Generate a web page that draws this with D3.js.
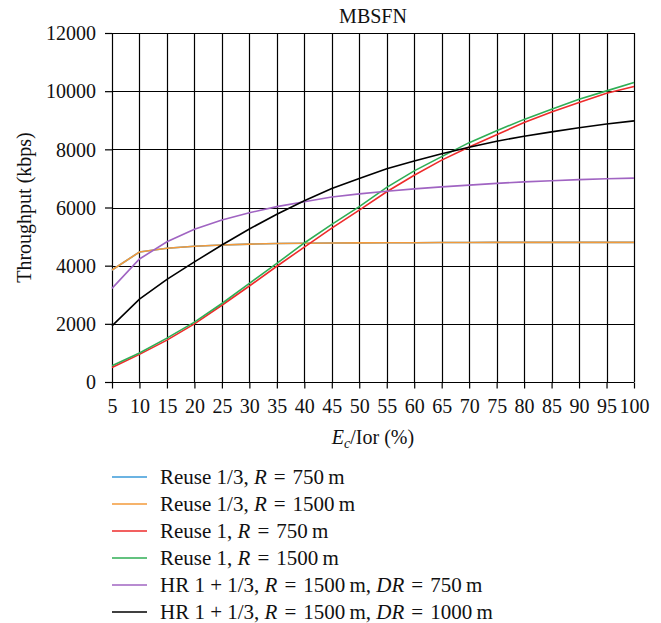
<!DOCTYPE html>
<html lang="en">
<head>
<meta charset="utf-8">
<title>MBSFN</title>
<script src="https://cdn.jsdelivr.net/npm/d3@7/dist/d3.min.js"></script>
<style>
  body { margin: 0; background: #fff; }
  text { font-family: "Liberation Serif", "DejaVu Serif", serif; fill: #111; }
</style>
</head>
<body>
<div id="chart"></div>
<script>
// E_c/Ior (%)
var ecIor = [5, 10, 15, 20, 25, 30, 35, 40, 45, 50, 55, 60, 65, 70, 75, 80, 85, 90, 95, 100];

// throughput (kbps)
var reuse3R750  = [3850, 4470, 4600, 4670, 4710, 4740, 4760, 4770, 4780, 4785, 4790, 4790, 4795, 4795, 4800, 4800, 4800, 4800, 4800, 4800];
var reuse3R1500 = [3850, 4470, 4600, 4670, 4710, 4740, 4760, 4770, 4780, 4785, 4790, 4790, 4795, 4795, 4800, 4800, 4800, 4800, 4800, 4800];
var reuse1R750  = [500, 950, 1440, 2000, 2640, 3300, 3980, 4640, 5290, 5910, 6540, 7110, 7630, 8080, 8500, 8920, 9280, 9610, 9930, 10160];
var reuse1R1500 = [560, 1000, 1510, 2060, 2700, 3390, 4080, 4780, 5420, 6030, 6690, 7260, 7750, 8230, 8640, 9030, 9380, 9720, 10010, 10300];
var hrDR750     = [3220, 4230, 4820, 5250, 5570, 5820, 6030, 6200, 6360, 6470, 6560, 6640, 6710, 6770, 6830, 6880, 6920, 6960, 6990, 7010];
var hrDR1000    = [1930, 2850, 3530, 4130, 4710, 5260, 5770, 6235, 6650, 7000, 7330, 7600, 7850, 8070, 8280, 8450, 8600, 8740, 8870, 8980];

var yTicks = [0, 2000, 4000, 6000, 8000, 10000, 12000];

var series = [
  { name: "r3_750",  values: reuse3R750,  color: "#3a9ad9" },
  { name: "r3_1500", values: reuse3R1500, color: "#f39a3a" },
  { name: "r1_750",  values: reuse1R750,  color: "#ee2b2b" },
  { name: "r1_1500", values: reuse1R1500, color: "#2fae55" },
  { name: "hr_750",  values: hrDR750,     color: "#a064c2" },
  { name: "hr_1000", values: hrDR1000,    color: "#000000" }
];

var FONT = "20px";

var margin = { top: 33, right: 27, bottom: 241, left: 112 };
var W = 661, H = 623;
var width = W - margin.left - margin.right,
    height = H - margin.top - margin.bottom;

var svg = d3.select("#chart").append("svg")
    .attr("width", W)
    .attr("height", H);

var g = svg.append("g")
    .attr("transform", "translate(" + margin.left + "," + margin.top + ")");

var x = d3.scaleLinear().domain([5, 100]).range([0, width]);
var y = d3.scaleLinear().domain([0, 12000]).range([height, 0]);

// grid
g.append("g").selectAll("line")
    .data(yTicks)
    .enter().append("line")
    .attr("x1", 0).attr("x2", width)
    .attr("y1", function(d) { return Math.round(y(d)) + 0.5; })
    .attr("y2", function(d) { return Math.round(y(d)) + 0.5; })
    .style("stroke", "#000").style("stroke-width", 1.2);

g.append("g").selectAll("line")
    .data(ecIor)
    .enter().append("line")
    .attr("y1", 0).attr("y2", height)
    .attr("x1", function(d) { return Math.round(x(d)) + 0.5; })
    .attr("x2", function(d) { return Math.round(x(d)) + 0.5; })
    .style("stroke", "#000").style("stroke-width", 1.2);

// axes
var xAxis = d3.axisBottom(x).tickValues(ecIor).tickSize(6).tickSizeOuter(0);
var yAxis = d3.axisLeft(y).tickValues(yTicks).tickFormat(d3.format("d")).tickSize(7).tickSizeOuter(0);

var gx = g.append("g")
    .attr("transform", "translate(0," + (Math.round(height) + 0.5) + ")")
    .call(xAxis);
gx.select(".domain").remove();
gx.attr("font-family", null).attr("font-size", null);
gx.selectAll("line").style("stroke", "#000").style("stroke-width", 1.2);
gx.selectAll("text").style("font-size", FONT).attr("dy", "1.05em").style("fill", "#111");

var gy = g.append("g").call(yAxis);
gy.select(".domain").remove();
gy.attr("font-family", null).attr("font-size", null);
gy.selectAll("line").style("stroke", "#000").style("stroke-width", 1.2);
gy.selectAll("text").style("font-size", FONT).attr("dy", "0.34em").attr("x", -16).style("fill", "#111");

// curves
var line = d3.line()
    .x(function(d, i) { return x(ecIor[i]); })
    .y(function(d) { return y(d); });

g.selectAll(".curve")
    .data(series)
    .enter().append("path")
    .attr("class", "curve")
    .attr("d", function(d) { return line(d.values); })
    .style("fill", "none")
    .style("stroke", function(d) { return d.color; })
    .style("stroke-width", 1.6);

// title and axis labels
svg.append("text")
    .attr("x", margin.left + width / 2).attr("y", 23)
    .attr("text-anchor", "middle")
    .style("font-size", FONT)
    .text("MBSFN");

svg.append("text")
    .attr("transform", "translate(31," + (margin.top + height / 2) + ") rotate(-90)")
    .attr("text-anchor", "middle")
    .style("font-size", FONT)
    .text("Throughput (kbps)");

var xl = svg.append("text")
    .attr("x", margin.left + width / 2).attr("y", 444)
    .attr("text-anchor", "middle")
    .style("font-size", FONT);
xl.append("tspan").style("font-style", "italic").text("E");
xl.append("tspan").style("font-style", "italic").style("font-size", "14px").attr("dy", 4).text("c");
xl.append("tspan").attr("dy", -4).text("/Ior (%)");

// legend
var EQ = " \u200a=\u200a ";
var legendText = [
  [["Reuse 1/3, ", 0], ["R", 1], [EQ + "750\u2009m", 0]],
  [["Reuse 1/3, ", 0], ["R", 1], [EQ + "1500\u2009m", 0]],
  [["Reuse 1, ", 0], ["R", 1], [EQ + "750\u2009m", 0]],
  [["Reuse 1, ", 0], ["R", 1], [EQ + "1500\u2009m", 0]],
  [["HR 1 + 1/3, ", 0], ["R", 1], [EQ + "1500\u2009m, ", 0], ["DR", 1], [EQ + "750\u2009m", 0]],
  [["HR 1 + 1/3, ", 0], ["R", 1], [EQ + "1500\u2009m, ", 0], ["DR", 1], [EQ + "1000\u2009m", 0]]
];

var leg = svg.selectAll(".leyenda")
    .data(series)
    .enter().append("g")
    .attr("class", "leyenda")
    .attr("transform", function(d, i) { return "translate(112," + (477 + i * 27) + ")"; });

leg.append("line")
    .attr("x1", 0).attr("x2", 35)
    .style("stroke", function(d) { return d.color; })
    .style("stroke-width", 1.6);

leg.append("text")
    .attr("x", 48).attr("dy", "0.34em")
    .style("font-size", "21px")
    .each(function(d, i) {
        var t = d3.select(this);
        legendText[i].forEach(function(p) {
            t.append("tspan").style("font-style", p[1] ? "italic" : "normal").text(p[0]);
        });
    });
</script>
</body>
</html>
